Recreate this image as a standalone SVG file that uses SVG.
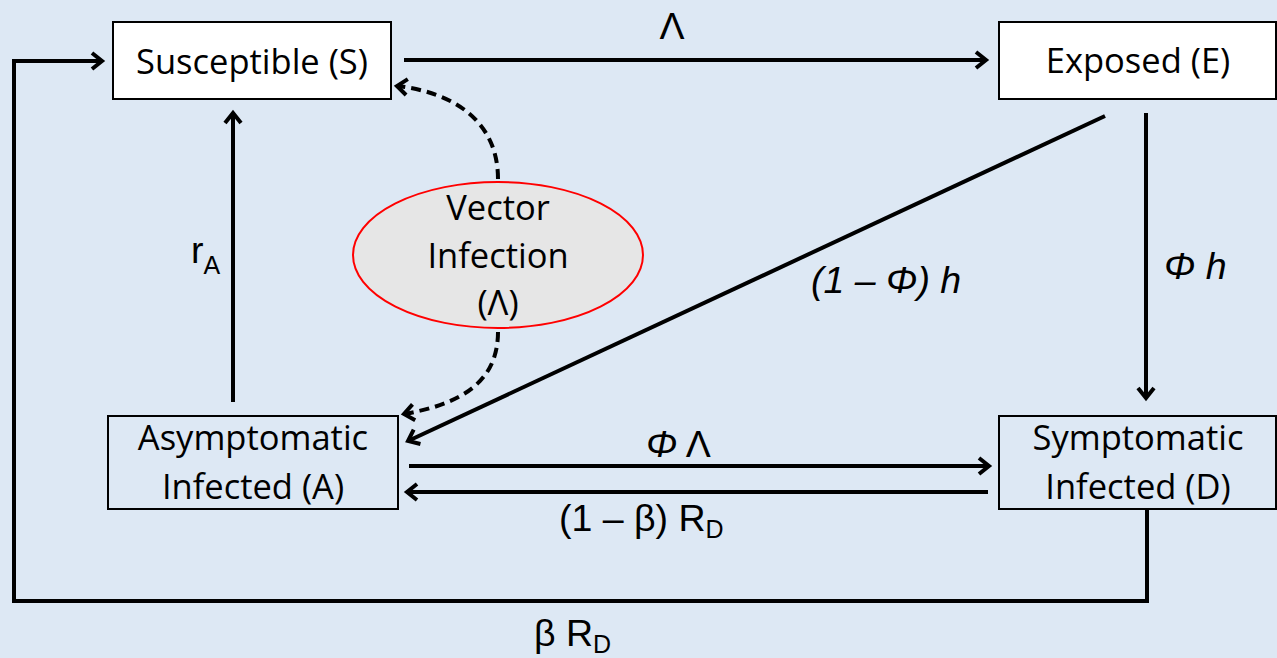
<svg xmlns="http://www.w3.org/2000/svg" width="1277" height="658" viewBox="0 0 1277 658">
<defs>
<style>
.box{stroke:#000;stroke-width:2}
.nt{font-family:"Open Sans","Liberation Sans",sans-serif;font-size:34.5px;fill:#000;text-anchor:middle}
.lb{font-family:"Liberation Sans",Arial,sans-serif;font-size:37.5px;fill:#000;text-anchor:middle}
.st{text-anchor:start}
.sub{font-size:25px}
.it{font-style:italic}
.ln{fill:none;stroke:#000;stroke-width:4}
.dash{stroke-dasharray:10 6}
</style>
<marker id="ah" markerUnits="userSpaceOnUse" markerWidth="30" markerHeight="30" viewBox="-15 -15 30 30" refX="0" refY="0" orient="auto">
<path d="M-10,-8 L0,0 L-10,8" fill="none" stroke="#000" stroke-width="4" stroke-dasharray="none" stroke-linejoin="miter"/>
</marker>
</defs>
<rect width="1277" height="658" fill="#dde8f4"/>
<g id="connectors">
<path class="ln" d="M404,60 H986" marker-end="url(#ah)"/>
<path class="ln" d="M1147,509 V601 H14 V61 H102" marker-end="url(#ah)"/>
<path class="ln" d="M233,402 V113" marker-end="url(#ah)"/>
<path class="ln" d="M1146,113 V398" marker-end="url(#ah)"/>
<path class="ln" d="M1105,116 L408,441" marker-end="url(#ah)"/>
<path class="ln" d="M409,466 H989" marker-end="url(#ah)"/>
<path class="ln" d="M988,492 H407" marker-end="url(#ah)"/>
<path class="ln dash" d="M498,179 C498,120 452,92 397,86" marker-end="url(#ah)"/>
<path class="ln dash" d="M498,332 C498,385 456,405 404,414" marker-end="url(#ah)"/>
<text class="lb" x="672" y="39">Λ</text>
<text class="lb st" x="191" y="263">r<tspan class="sub" dy="11">A</tspan></text>
<text class="lb it st" x="1164" y="279">Φ h</text>
<text class="lb it st" x="811" y="293">(1 – Φ) h</text>
<text class="lb st" x="646" y="457"><tspan class="it">Φ</tspan> Λ</text>
<text class="lb st" x="559" y="531">(1 – β) R<tspan class="sub" dy="7">D</tspan></text>
<text class="lb st" x="534" y="646">β R<tspan class="sub" dy="7">D</tspan></text>
</g>
<g id="node-S">
<rect class="box" x="113" y="22" width="278" height="77" fill="#fff"/>
<text class="nt" x="252" y="74">Susceptible (S)</text>
</g>
<g id="node-E">
<rect class="box" x="999" y="22" width="277" height="77" fill="#fff"/>
<text class="nt" x="1138" y="73">Exposed (E)</text>
</g>
<g id="node-A">
<rect class="box" x="108" y="416" width="290" height="93" fill="none"/>
<text class="nt" x="253" y="450">Asymptomatic</text>
<text class="nt" x="253" y="499">Infected (A)</text>
</g>
<g id="node-D">
<rect class="box" x="999" y="416" width="277" height="93" fill="none"/>
<text class="nt" x="1138" y="450">Symptomatic</text>
<text class="nt" x="1138" y="499">Infected (D)</text>
</g>
<g id="node-V">
<ellipse cx="498" cy="255" rx="145" ry="73" fill="#e6e6e6" stroke="#ff0000" stroke-width="2"/>
<text class="nt" x="498" y="220">Vector</text>
<text class="nt" x="498" y="268">Infection</text>
<text class="nt" x="498" y="315">(Λ)</text>
</g>
</svg>
